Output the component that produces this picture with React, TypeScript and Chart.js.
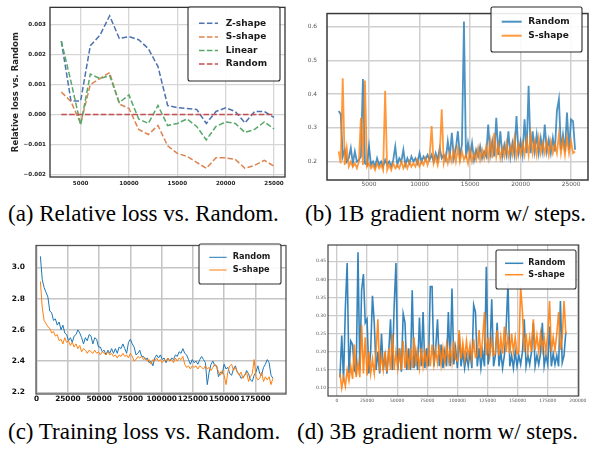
import React, { useEffect, useRef } from "react";
import { Chart, registerables } from "chart.js";
Chart.register(...registerables);

const FONT = '"DejaVu Sans", sans-serif';
const SERIF = '"Liberation Serif", "Times New Roman", serif';

// ---------- (a) Relative loss vs. Random ----------
const relSteps = [3000, 4000, 5000, 6000, 7000, 8000, 9000, 10000, 11000, 12000, 13000, 14000, 15000, 16000, 17000, 18000, 19000, 20000, 21000, 22000, 23000, 24000, 25000];
const relZShape = [0.00245, 0.00045, 0.00045, 0.0023, 0.00265, 0.0033, 0.00254, 0.0026, 0.0025, 0.0022, 0.0016, 0.0003, 0.00023, 0.0002, 0.00017, -0.0003, 0.0001, 0.00022, 0.0001, -0.00028, 0.0001, 0.0001, -0.0001];
const relSShape = [0.00075, 0.00043, -0.0003, 0.001, 0.0012, 0.0014, 0.00035, 0.0002, -0.0005, -0.00067, -0.00037, -0.00105, -0.0013, -0.0014, -0.0016, -0.0018, -0.00145, -0.00145, -0.0015, -0.0018, -0.0017, -0.00153, -0.00173];
const relLinear = [0.00245, 0.0011, -0.00035, 0.00135, 0.0012, 0.0013, 0.0004, 0.00065, -0.00015, -0.0003, 0.0003, -0.00037, -0.0003, -0.00015, -0.0004, -0.00085, -0.0004, -0.00025, -0.0003, -0.0006, -0.0005, -0.00025, -0.00048];
const relRandom = [0, 0, 0, 0, 0, 0, 0, 0, 0, 0, 0, 0, 0, 0, 0, 0, 0, 0, 0, 0, 0, 0, 0];
const relXTicks = [5000, 10000, 15000, 20000, 25000];
const relYTicks = [-0.002, -0.001, 0, 0.001, 0.002, 0.003];

// ---------- (b) 1B gradient norm ----------
const gn1bStart = 2000;
const gn1bInterval = 200;
const gn1bRandom = [
  0.35, 0.34, 0.215, 0.235, 0.2, 0.21, 0.24, 0.195, 0.23, 0.2,
  0.205, 0.215, 0.445, 0.195, 0.19, 0.245, 0.19, 0.2, 0.185, 0.21,
  0.19, 0.2, 0.185, 0.205, 0.19, 0.2, 0.185, 0.205, 0.245, 0.19,
  0.21, 0.2, 0.235, 0.19, 0.21, 0.195, 0.215, 0.2, 0.21, 0.195,
  0.225, 0.2, 0.215, 0.205, 0.22, 0.205, 0.22, 0.2, 0.225, 0.205,
  0.24, 0.21, 0.22, 0.205, 0.26, 0.215, 0.285, 0.21, 0.24, 0.29,
  0.215, 0.25, 0.615, 0.21, 0.255, 0.215, 0.255, 0.205, 0.235, 0.215,
  0.245, 0.21, 0.23, 0.215, 0.31, 0.22, 0.26, 0.215, 0.33, 0.22,
  0.29, 0.215, 0.25, 0.22, 0.29, 0.215, 0.255, 0.22, 0.335, 0.225,
  0.26, 0.22, 0.325, 0.225, 0.425, 0.225, 0.29, 0.23, 0.28, 0.225,
  0.27, 0.23, 0.31, 0.23, 0.265, 0.225, 0.27, 0.23, 0.35, 0.385,
  0.235, 0.28, 0.23, 0.345, 0.235, 0.325, 0.32, 0.235,
];
const gn1bSShape = [
  0.23, 0.195, 0.447, 0.19, 0.24, 0.185, 0.2, 0.185, 0.195, 0.18,
  0.2, 0.33, 0.19, 0.44, 0.185, 0.195, 0.18, 0.19, 0.175, 0.195,
  0.18, 0.19, 0.175, 0.41, 0.175, 0.19, 0.175, 0.195, 0.18, 0.19,
  0.18, 0.2, 0.18, 0.195, 0.18, 0.2, 0.185, 0.195, 0.185, 0.205,
  0.185, 0.2, 0.19, 0.21, 0.19, 0.215, 0.305, 0.195, 0.215, 0.19,
  0.22, 0.355, 0.195, 0.22, 0.195, 0.225, 0.2, 0.235, 0.2, 0.24,
  0.2, 0.23, 0.205, 0.22, 0.195, 0.235, 0.2, 0.225, 0.205, 0.24,
  0.205, 0.235, 0.21, 0.245, 0.21, 0.26, 0.21, 0.285, 0.215, 0.25,
  0.21, 0.24, 0.215, 0.255, 0.215, 0.245, 0.22, 0.27, 0.215, 0.25,
  0.22, 0.255, 0.22, 0.265, 0.22, 0.28, 0.225, 0.26, 0.22, 0.27,
  0.225, 0.255, 0.225, 0.26, 0.22, 0.26, 0.225, 0.25, 0.225, 0.28,
  0.225, 0.265, 0.22, 0.27, 0.225, 0.26, 0.225, 0.23,
];
const gn1bXTicks = [5000, 10000, 15000, 20000, 25000];
const gn1bYTicks = [0.2, 0.3, 0.4, 0.5, 0.6];

// ---------- (c) Training loss ----------
const lossStart = 3000;
const lossInterval = 1500;
const lossRandom = [
  3.07, 2.92, 2.87, 2.84, 2.81, 2.72, 2.71, 2.66, 2.67, 2.63,
  2.65, 2.60, 2.63, 2.58, 2.57, 2.53, 2.55, 2.52, 2.56, 2.57,
  2.60, 2.58, 2.55, 2.51, 2.55, 2.53, 2.57, 2.56, 2.51, 2.55,
  2.54, 2.49, 2.49, 2.46, 2.47, 2.44, 2.47, 2.45, 2.48, 2.45,
  2.48, 2.45, 2.49, 2.48, 2.51, 2.48, 2.45, 2.52, 2.54, 2.51,
  2.49, 2.44, 2.45, 2.47, 2.43, 2.43, 2.41, 2.42, 2.39, 2.40,
  2.37, 2.42, 2.44, 2.42, 2.44, 2.41, 2.42, 2.39, 2.42, 2.40,
  2.42, 2.41, 2.44, 2.43, 2.46, 2.45, 2.48, 2.45, 2.44, 2.41,
  2.38, 2.41, 2.39, 2.40, 2.38, 2.41, 2.43, 2.41, 2.39, 2.25,
  2.33, 2.38, 2.40, 2.37, 2.37, 2.30, 2.33, 2.32, 2.38, 2.35,
  2.36, 2.32, 2.31, 2.35, 2.37, 2.33, 2.32, 2.29, 2.30, 2.31,
  2.34, 2.32, 2.28, 2.27, 2.31, 2.33, 2.37, 2.32, 2.31, 2.36,
  2.38, 2.41, 2.39, 2.31, 2.29,
];
const lossSShape = [
  2.91, 2.74, 2.66, 2.64, 2.62, 2.61, 2.58, 2.59, 2.56, 2.57,
  2.53, 2.54, 2.51, 2.55, 2.52, 2.53, 2.50, 2.52, 2.49, 2.51,
  2.48, 2.50, 2.46, 2.48, 2.47, 2.45, 2.47, 2.46, 2.45, 2.47,
  2.45, 2.46, 2.44, 2.46, 2.45, 2.44, 2.46, 2.44, 2.45, 2.43,
  2.44, 2.42, 2.44, 2.43, 2.45, 2.43, 2.44, 2.42, 2.45, 2.43,
  2.40, 2.41, 2.43, 2.42, 2.43, 2.41, 2.42, 2.40, 2.41, 2.38,
  2.41, 2.40, 2.42, 2.40, 2.41, 2.39, 2.41, 2.40, 2.42, 2.40,
  2.41, 2.39, 2.42, 2.40, 2.42, 2.41, 2.43, 2.38, 2.36, 2.37,
  2.35, 2.37, 2.36, 2.37, 2.35, 2.37, 2.36, 2.35, 2.37, 2.35,
  2.36, 2.34, 2.36, 2.38, 2.37, 2.33, 2.31, 2.34, 2.31, 2.25,
  2.33, 2.37, 2.38, 2.34, 2.36, 2.33, 2.31, 2.33, 2.29, 2.31,
  2.33, 2.27, 2.30, 2.32, 2.41, 2.30, 2.28, 2.29, 2.33, 2.27,
  2.30, 2.28, 2.30, 2.25, 2.29,
];
const lossXTicks = [0, 25000, 50000, 75000, 100000, 125000, 150000, 175000];
const lossYTicks = [2.2, 2.4, 2.6, 2.8, 3.0];

// ---------- (d) 3B gradient norm ----------
const gn3bStart = 2500;
const gn3bInterval = 1500;
const gn3bRandom = [
  0.13, 0.245, 0.12, 0.32, 0.445, 0.14, 0.23, 0.22, 0.15, 0.14,
  0.475, 0.15, 0.37, 0.415, 0.28, 0.29, 0.14, 0.2, 0.355, 0.28,
  0.15, 0.2, 0.14, 0.25, 0.15, 0.19, 0.14, 0.2, 0.29, 0.15,
  0.325, 0.445, 0.15, 0.21, 0.145, 0.305, 0.28, 0.15, 0.21, 0.15,
  0.37, 0.155, 0.2, 0.15, 0.295, 0.16, 0.31, 0.155, 0.21, 0.16,
  0.38, 0.38, 0.16, 0.21, 0.29, 0.16, 0.22, 0.155, 0.2, 0.16,
  0.31, 0.16, 0.375, 0.165, 0.21, 0.155, 0.25, 0.16, 0.2, 0.155,
  0.19, 0.16, 0.2, 0.155, 0.33, 0.31, 0.16, 0.21, 0.155, 0.2,
  0.16, 0.435, 0.165, 0.2, 0.345, 0.16, 0.19, 0.28, 0.16, 0.2,
  0.155, 0.19, 0.27, 0.39, 0.16, 0.19, 0.155, 0.2, 0.16, 0.19,
  0.165, 0.2, 0.29, 0.16, 0.19, 0.165, 0.2, 0.28, 0.16, 0.19,
  0.165, 0.195, 0.28, 0.16, 0.19, 0.165, 0.27, 0.16, 0.195, 0.165,
  0.19, 0.16, 0.34, 0.17, 0.19, 0.255,
];
const gn3bSShape = [
  0.14, 0.10, 0.13, 0.105, 0.15, 0.12, 0.16, 0.125, 0.22, 0.13,
  0.17, 0.13, 0.275, 0.14, 0.24, 0.135, 0.2, 0.14, 0.18, 0.14,
  0.2, 0.29, 0.145, 0.19, 0.15, 0.2, 0.145, 0.21, 0.15, 0.25,
  0.15, 0.2, 0.155, 0.21, 0.15, 0.23, 0.155, 0.2, 0.15, 0.21,
  0.155, 0.24, 0.16, 0.2, 0.155, 0.21, 0.16, 0.2, 0.165, 0.21,
  0.16, 0.22, 0.165, 0.205, 0.17, 0.22, 0.165, 0.21, 0.17, 0.22,
  0.175, 0.21, 0.17, 0.23, 0.18, 0.175, 0.26, 0.18, 0.225, 0.18,
  0.23, 0.185, 0.22, 0.18, 0.235, 0.185, 0.19, 0.26, 0.185, 0.24,
  0.31, 0.19, 0.24, 0.19, 0.235, 0.19, 0.195, 0.26, 0.19, 0.24,
  0.195, 0.27, 0.2, 0.245, 0.195, 0.25, 0.2, 0.24, 0.195, 0.2,
  0.38, 0.31, 0.2, 0.25, 0.2, 0.24, 0.2, 0.29, 0.205, 0.245,
  0.2, 0.25, 0.205, 0.24, 0.2, 0.25, 0.34, 0.2, 0.24, 0.205,
  0.25, 0.31, 0.205, 0.24, 0.34, 0.25,
];
const gn3bXTicks = [0, 25000, 50000, 75000, 100000, 125000, 150000, 175000, 200000];
const gn3bYTicks = [0.1, 0.15, 0.2, 0.25, 0.3, 0.35, 0.4, 0.45];

// ---------- helpers ----------
const stepsFor = (start: number, interval: number, n: number) =>
  Array.from({ length: n }, (_, i) => start + i * interval);

const pts = (xs: number[], ys: number[]) => ys.map((y, i) => ({ x: xs[i], y }));

const framePlugin = {
  id: "frameLegend",
  afterDraw(chart: any, _args: any, o: any) {
    const { ctx, chartArea: ca } = chart;
    ctx.save();
    ctx.strokeStyle = o.frameColor;
    ctx.lineWidth = o.frameWidth;
    ctx.setLineDash([]);
    ctx.strokeRect(ca.left, ca.top, ca.right - ca.left, ca.bottom - ca.top);
    const L = o.legend;
    if (L) {
      ctx.beginPath();
      ctx.roundRect(L.x0, L.y0, L.x1 - L.x0, L.y1 - L.y0, 2);
      ctx.fillStyle = "rgba(255,255,255,0.9)";
      ctx.fill();
      ctx.strokeStyle = L.border;
      ctx.lineWidth = L.borderWidth;
      ctx.stroke();
      chart.data.datasets.forEach((ds: any, i: number) => {
        const y = L.row0 + i * L.dy;
        ctx.strokeStyle = ds.borderColor;
        ctx.lineWidth = L.lineWidth ?? ds.borderWidth;
        ctx.setLineDash(ds.borderDash || []);
        ctx.beginPath();
        ctx.moveTo(L.lx0, y);
        ctx.lineTo(L.lx1, y);
        ctx.stroke();
        ctx.setLineDash([]);
        ctx.fillStyle = "#1a1a1a";
        ctx.font = L.font;
        ctx.textBaseline = "middle";
        ctx.textAlign = "left";
        ctx.fillText(ds.label, L.tx, y);
      });
    }
    ctx.restore();
  },
};

function makeScale(o: any) {
  return {
    type: "linear",
    position: o.isY ? "left" : "bottom",
    min: o.min,
    max: o.max,
    afterBuildTicks: (s: any) => {
      s.ticks = o.ticks.map((v: number) => ({ value: v }));
    },
    afterFit: (s: any) => {
      if (o.isY) s.width = o.size;
      else s.height = o.size;
    },
    grid: { color: o.gridColor, lineWidth: o.gridWidth, drawTicks: false },
    border: { display: false },
    ticks: {
      autoSkip: false,
      maxRotation: 0,
      minRotation: 0,
      padding: o.padding,
      color: o.color,
      font: { family: FONT, size: o.fontSize, weight: o.bold ? "bold" : "normal" },
      callback: (v: any) => o.fmt(Number(v)),
    },
    title: o.title || { display: false },
  };
}

const minus = (s: string) => s.replace("-", "\u2212");

function buildConfig(p: any) {
  return {
    type: "line",
    data: { datasets: p.datasets },
    options: {
      responsive: false,
      animation: false,
      events: [],
      layout: { padding: p.padding },
      elements: { point: { radius: 0 }, line: { tension: 0 } },
      plugins: {
        legend: { display: false },
        tooltip: { enabled: false },
        frameLegend: p.frame,
      },
      scales: { x: makeScale(p.x), y: makeScale(p.y) },
    },
    plugins: [framePlugin],
  };
}

function Panel({ left, top, width, height, build }: any) {
  const ref = useRef<HTMLCanvasElement>(null);
  useEffect(() => {
    const chart = new Chart(ref.current as HTMLCanvasElement, build() as any);
    return () => chart.destroy();
  }, []);
  return (
    <div style={{ position: "absolute", left, top, width, height }}>
      <canvas ref={ref} width={width} height={height} style={{ width, height, display: "block" }} />
    </div>
  );
}

const dashed = (label: string, color: string, data: any, n: number) => ({
  label,
  data,
  borderColor: color,
  borderWidth: 1.5,
  borderDash: [5.5, 2.4],
  pointRadius: 0,
  fill: false,
  order: n,
});

function buildA() {
  return buildConfig({
    padding: { left: 0, top: 3, right: 5, bottom: 0 },
    datasets: [
      dashed("Z-shape", "#4C72B0", pts(relSteps, relZShape), 4),
      dashed("S-shape", "#DD8452", pts(relSteps, relSShape), 3),
      dashed("Linear", "#55A868", pts(relSteps, relLinear), 2),
      dashed("Random", "#C44E52", pts(relSteps, relRandom), 1),
    ],
    x: { isY: false, min: 1830, max: 26140, ticks: relXTicks, size: 23, padding: 3, color: "#262626", fontSize: 5.6, bold: true, gridColor: "#d6d6d6", gridWidth: 1.3, fmt: (v: number) => String(v) },
    y: {
      isY: true, min: -0.00209, max: 0.00358, ticks: relYTicks, size: 50, padding: 4, color: "#262626", fontSize: 5.6, bold: true, gridColor: "#d6d6d6", gridWidth: 1.3,
      fmt: (v: number) => minus(v.toFixed(3)),
      title: { display: true, text: "Relative loss vs. Random", color: "#262626", font: { family: FONT, size: 8.5, weight: "bold" }, padding: { top: 11, bottom: 0 } },
    },
    frame: {
      frameColor: "#333", frameWidth: 1.3,
      legend: { x0: 188, y0: 7, x1: 280, y1: 81, border: "#2a2a2a", borderWidth: 1.1, row0: 23.3, dy: 13.6, lx0: 199, lx1: 218, tx: 225.7, font: `bold 9px ${FONT}` },
    },
  });
}

const solid = (label: string, color: string, width: number, data: any, n: number) => ({
  label,
  data,
  borderColor: color,
  borderWidth: width,
  pointRadius: 0,
  fill: false,
  order: n,
});

function buildB() {
  const xs = stepsFor(gn1bStart, gn1bInterval, gn1bRandom.length);
  return buildConfig({
    padding: { left: 0, top: 2, right: 1, bottom: 0 },
    datasets: [
      solid("Random", "rgba(31,119,180,0.8)", 1.8, pts(xs, gn1bRandom), 2),
      solid("S-shape", "rgba(255,127,14,0.8)", 1.8, pts(xs, gn1bSShape), 1),
    ],
    x: { isY: false, min: 842, max: 26680, ticks: gn1bXTicks, size: 20, padding: 1, color: "#555", fontSize: 5.9, bold: false, gridColor: "#cfcfcf", gridWidth: 1.5, fmt: (v: number) => String(v) },
    y: { isY: true, min: 0.1454, max: 0.6388, ticks: gn1bYTicks, size: 32, padding: 10, color: "#555", fontSize: 5.9, bold: false, gridColor: "#cfcfcf", gridWidth: 1.5, fmt: (v: number) => v.toFixed(1) },
    frame: {
      frameColor: "#3a3a3a", frameWidth: 1.5,
      legend: { x0: 196, y0: 7, x1: 287, y1: 52, border: "#2a2a2a", borderWidth: 1.1, row0: 21.7, dy: 14, lx0: 206.7, lx1: 226.7, tx: 233.3, font: `bold 9px ${FONT}`, lineWidth: 2 },
    },
  });
}

function buildC() {
  const xs = stepsFor(lossStart, lossInterval, lossRandom.length);
  return buildConfig({
    padding: { left: 0, top: 7, right: 4, bottom: 0 },
    datasets: [
      solid("Random", "#1f77b4", 1, pts(xs, lossRandom), 2),
      solid("S-shape", "#ff7f0e", 1, pts(xs, lossSShape), 1),
    ],
    x: { isY: false, min: -500, max: 199500, ticks: lossXTicks, size: 16, padding: 1, color: "#111", fontSize: 7.3, bold: true, gridColor: "#c4c4c4", gridWidth: 1.5, fmt: (v: number) => String(v) },
    y: { isY: true, min: 2.19, max: 3.139, ticks: lossYTicks, size: 36, padding: 11, color: "#111", fontSize: 7.5, bold: true, gridColor: "#c4c4c4", gridWidth: 1.5, fmt: (v: number) => v.toFixed(1) },
    frame: {
      frameColor: "#555", frameWidth: 1.3,
      legend: { x0: 199, y0: 14, x1: 281, y1: 54, border: "#333", borderWidth: 1.1, row0: 27.3, dy: 12.7, lx0: 209.3, lx1: 226.7, tx: 232.7, font: `bold 8.2px ${FONT}`, lineWidth: 1 },
    },
  });
}

function buildD() {
  const xs = stepsFor(gn3bStart, gn3bInterval, gn3bRandom.length);
  return buildConfig({
    padding: { left: 0, top: 5, right: 9, bottom: 0 },
    datasets: [
      solid("Random", "rgba(31,119,180,0.9)", 1.6, pts(xs, gn3bRandom), 2),
      solid("S-shape", "rgba(255,127,14,0.9)", 1.6, pts(xs, gn3bSShape), 1),
    ],
    x: { isY: false, min: -7400, max: 200700, ticks: gn3bXTicks, size: 9, padding: 2.5, color: "#555", fontSize: 4.5, bold: false, gridColor: "#cbcbcb", gridWidth: 1.3, fmt: (v: number) => String(v) },
    y: { isY: true, min: 0.078, max: 0.495, ticks: gn3bYTicks, size: 33, padding: 2, color: "#555", fontSize: 4.5, bold: false, gridColor: "#cbcbcb", gridWidth: 1.3, fmt: (v: number) => v.toFixed(2) },
    frame: {
      frameColor: "#444", frameWidth: 1.2,
      legend: { x0: 201, y0: 10, x1: 281, y1: 49, border: "#333", borderWidth: 1.1, row0: 23.3, dy: 11.4, lx0: 210, lx1: 228.3, tx: 233.3, font: `bold 8.1px ${FONT}`, lineWidth: 1.5 },
    },
  });
}

const captionStyle = (left: number, top: number): React.CSSProperties => ({
  position: "absolute",
  left,
  top,
  fontFamily: SERIF,
  fontSize: 23,
  lineHeight: "23px",
  whiteSpace: "nowrap",
  color: "#000",
});

export default function App() {
  return (
    <div style={{ position: "absolute", left: 0, top: 0, width: 589, height: 450, background: "#fff", overflow: "hidden" }}>
      <Panel left={0} top={0} width={290} height={200} build={buildA} />
      <Panel left={295} top={0} width={294} height={200} build={buildB} />
      <Panel left={0} top={230} width={290} height={180} build={buildC} />
      <Panel left={295} top={240} width={294} height={165} build={buildD} />
      <div style={captionStyle(8, 201.7)}>(a) Relative loss vs. Random.</div>
      <div style={captionStyle(305, 201.7)}>(b) 1B gradient norm w/ steps.</div>
      <div style={captionStyle(8, 419.7)}>(c) Training loss vs. Random.</div>
      <div style={captionStyle(297, 419.7)}>(d) 3B gradient norm w/ steps.</div>
    </div>
  );
}
